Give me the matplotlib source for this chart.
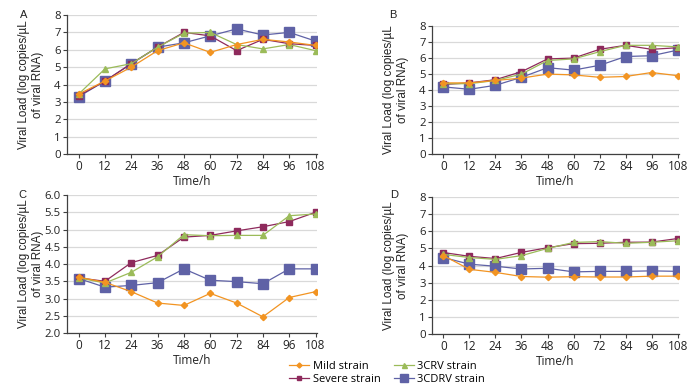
import matplotlib
matplotlib.use('Agg')
from matplotlib import pyplot as plt

# Sampling times (h)
times = [0, 12, 24, 36, 48, 60, 72, 84, 96, 108]

# Panel A
a_mild = [3.45, 4.2, 5.0, 5.95, 6.4, 5.85, 6.3, 6.6, 6.45, 6.25]
a_severe = [3.35, 4.2, 5.2, 6.15, 7.0, 6.8, 5.95, 6.6, 6.35, 6.25]
a_3crv = [3.45, 4.9, 5.2, 6.15, 6.95, 7.0, 6.3, 6.05, 6.3, 5.95]
a_3cdrv = [3.3, 4.2, 5.2, 6.15, 6.4, 6.8, 7.2, 6.85, 7.0, 6.5]

# Panel B
b_mild = [4.45, 4.45, 4.6, 4.75, 5.0, 4.95, 4.8, 4.85, 5.1, 4.9]
b_severe = [4.35, 4.45, 4.65, 5.15, 5.95, 6.0, 6.55, 6.8, 6.55, 6.65]
b_3crv = [4.4, 4.4, 4.6, 5.0, 5.85, 5.95, 6.4, 6.8, 6.8, 6.7]
b_3cdrv = [4.2, 4.05, 4.3, 4.8, 5.4, 5.25, 5.55, 6.1, 6.15, 6.5]

# Panel C
c_mild = [3.62, 3.47, 3.2, 2.87, 2.8, 3.15, 2.87, 2.47, 3.03, 3.2]
c_severe = [3.6, 3.5, 4.04, 4.25, 4.78, 4.83, 4.96, 5.08, 5.23, 5.5]
c_3crv = [3.6, 3.45, 3.76, 4.21, 4.85, 4.82, 4.83, 4.83, 5.4, 5.45]
c_3cdrv = [3.58, 3.33, 3.38, 3.46, 3.86, 3.53, 3.49, 3.43, 3.86, 3.86]

# Panel D
d_mild = [4.58, 3.78, 3.6, 3.36, 3.32, 3.35, 3.33, 3.33, 3.38, 3.38]
d_severe = [4.76, 4.54, 4.41, 4.77, 5.04, 5.28, 5.3, 5.36, 5.37, 5.58]
d_3crv = [4.65, 4.47, 4.36, 4.58, 5.0, 5.35, 5.4, 5.3, 5.36, 5.45]
d_3cdrv = [4.47, 4.08, 3.96, 3.8, 3.84, 3.63, 3.66, 3.66, 3.69, 3.66]

labels = ['Mild strain', 'Severe strain', '3CRV strain', '3CDRV strain']
colors = ['#F29422', '#8E2A5C', '#9BBB59', '#5F62A6']
markers = ['D', 's', '^', 's']
msizes = [3.2, 3.8, 4.5, 7]
zorders = [4, 3, 3.5, 2.5]

panels = [
    ('A', [a_mild, a_severe, a_3crv, a_3cdrv], (0, 8), 1, [0.0957, 0.605, 0.357, 0.3565], (24, 15)),
    ('B', [b_mild, b_severe, b_3crv, b_3cdrv], (0, 8), 1, [0.617, 0.605, 0.353, 0.328], (393, 15)),
    ('C', [c_mild, c_severe, c_3crv, c_3cdrv], (2, 6), 0.5, [0.0957, 0.146, 0.357, 0.354], (22, 195)),
    ('D', [d_mild, d_severe, d_3crv, d_3cdrv], (0, 8), 1, [0.617, 0.1436, 0.353, 0.351], (394, 195)),
]

fig = plt.figure(figsize=(7, 3.9), dpi=100)
tick_font = 'Open Sans'
label_font = 'Liberation Sans'

handles = []
for letter, series, ylim, ystep, pos, letter_xy in panels:
    ax = fig.add_axes(pos)
    for vals, lab, col, mk, ms, zo in zip(series, labels, colors, markers, msizes, zorders):
        h, = ax.plot(times, vals, color=col, marker=mk, markersize=ms, linewidth=0.9,
                     markeredgecolor=col, label=lab, zorder=zo)
        if letter == 'A':
            handles.append(h)

    ax.set_xlim(-5.3, 108.6)
    ax.set_ylim(*ylim)
    ax.set_xticks(times)
    ax.set_xticklabels([str(t) for t in times], fontsize=8.5, family=tick_font)
    yt = []
    v = ylim[0]
    while v <= ylim[1] + 1e-9:
        yt.append(v)
        v += ystep
    ax.set_yticks(yt)
    if ystep < 1:
        ax.set_yticklabels(['%.1f' % t for t in yt], fontsize=8.2, family=tick_font)
    else:
        ax.set_yticklabels(['%d' % t for t in yt], fontsize=8.2, family=tick_font)

    ax.grid(axis='y', color='#D9D9D9', linewidth=0.9)
    ax.set_axisbelow(True)
    for s in ['top', 'right']:
        ax.spines[s].set_visible(False)
    for s in ['left', 'bottom']:
        ax.spines[s].set_color('#404040')
        ax.spines[s].set_linewidth(0.9)
    ax.tick_params(axis='both', length=3, width=0.8, color='#404040', pad=1.5, labelcolor='#222222')

    ax.set_xlabel('Time/h', fontsize=8.5, family=tick_font, labelpad=1, color='#222222')
    ax.set_ylabel('Viral Load (log copies/µL\nof viral RNA)', fontsize=8.4, family=label_font,
                  color='#222222', linespacing=1.25)
    ax.yaxis.set_label_coords(-0.092, 0.5)

    fig.text(letter_xy[0] / 700, 1 - letter_xy[1] / 390, letter, fontsize=8, family=label_font,
             ha='center', va='center', color='#222222')

fig.legend(handles=handles, loc='center', bbox_to_anchor=(0.553, 0.044), ncol=2,
           frameon=False, prop={'family': tick_font, 'size': 8}, handlelength=1.8,
           handletextpad=0.3, columnspacing=1.2, labelspacing=0.15, markerscale=0.8)

fig.savefig('out.png', dpi=100)
